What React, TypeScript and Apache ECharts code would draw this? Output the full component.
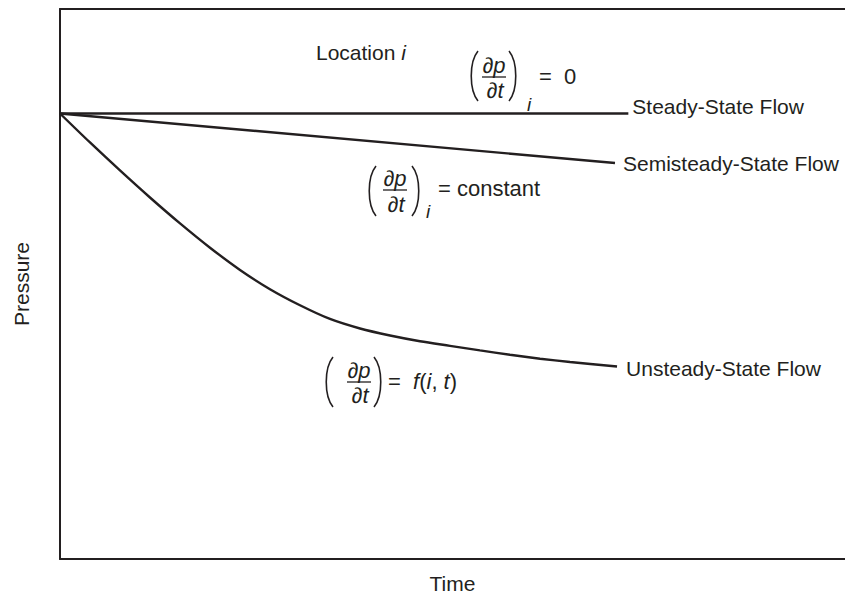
import React, { useEffect, useRef } from "react";
import * as echarts from "echarts";

const seriesNames = ["Steady-State Flow", "Semisteady-State Flow", "Unsteady-State Flow"];
const steadyData: number[][] = [[0, 81.0], [72.4, 81.0]];
const semisteadyData: number[][] = [[0, 81.0], [70.7, 72.0]];
const unsteadyData: number[][] = [
  [0, 81.0], [3.82, 75.73], [7.64, 70.65], [11.46, 65.73], [15.29, 61.02],
  [19.11, 56.6], [22.93, 52.56], [26.75, 49.05], [30.57, 46.13], [34.39, 43.64],
  [38.22, 41.91], [42.04, 40.64], [45.86, 39.6], [49.68, 38.76], [53.5, 37.93],
  [57.32, 37.13], [61.15, 36.42], [64.97, 35.82], [70.96, 35.0],
];
const xAxisName = "Time";
const yAxisName = "Pressure";

const INK = "#231f20";
const FONT = "'Liberation Sans', Arial, Helvetica, sans-serif";
const FS = 21;
const MFS = 22;

function paren(x0: number, x1: number, top: number, bottom: number, left: boolean) {
  const h = bottom - top;
  const outer = left ? x1 : x0;
  const inner = left ? x0 : x1;
  return {
    type: "bezierCurve",
    shape: {
      x1: outer, y1: top, x2: outer, y2: bottom,
      cpx1: inner, cpy1: top + h * 0.22, cpx2: inner, cpy2: bottom - h * 0.22,
    },
    style: { stroke: INK, lineWidth: 1.6, fill: null },
  };
}

function txt(x: number, y: number, text: string, italic = false, align = "center", size = FS) {
  return {
    type: "text", x, y,
    style: {
      text, fill: INK, fontSize: size, fontFamily: FONT,
      fontStyle: italic ? "italic" : "normal", align, verticalAlign: "middle",
    },
  };
}

function fracBlock(o: {
  lp: [number, number]; rp: [number, number]; top: number; bottom: number;
  cx: number; numY: number; barY: number; denY: number; barW: number;
  sub?: [number, number]; rhs: any;
}) {
  const els: any[] = [
    paren(o.lp[0], o.lp[1], o.top, o.bottom, true),
    paren(o.rp[0], o.rp[1], o.top, o.bottom, false),
    txt(o.cx, o.numY, "∂p", true, "center", MFS),
    txt(o.cx + 1, o.denY, "∂t", true, "center", MFS),
    {
      type: "line",
      shape: { x1: o.cx - o.barW / 2, y1: o.barY, x2: o.cx + o.barW / 2, y2: o.barY },
      style: { stroke: INK, lineWidth: 1.3 },
    },
  ];
  if (o.sub) els.push(txt(o.sub[0], o.sub[1], "i", true, "center", 19));
  els.push(o.rhs);
  return els;
}

export default function App() {
  const ref = useRef<HTMLDivElement>(null);
  useEffect(() => {
    if (!ref.current) return;
    const chart = echarts.init(ref.current, undefined, { renderer: "svg" });
    const axisLine = { show: true, lineStyle: { color: INK, width: 2 } };
    const lineStyle = { color: INK, width: 2.4 };
    const labelBase = { show: true, formatter: "{a}", color: INK, fontSize: FS, fontFamily: FONT };
    const rich = { it: { fontStyle: "italic", fontSize: FS, fontFamily: FONT, fill: INK } };
    const richM = { it: { fontStyle: "italic", fontSize: MFS, fontFamily: FONT, fill: INK } };

    const graphics: any[] = [
      {
        type: "text", x: 316, y: 52,
        style: {
          text: "Location {it|i}", fill: INK, fontSize: FS, fontFamily: FONT,
          verticalAlign: "middle", rich,
        },
      },
      ...fracBlock({
        lp: [469, 478], rp: [509, 518], top: 51, bottom: 101,
        cx: 494, numY: 65, barY: 77, denY: 90, barW: 24, sub: [529, 104],
        rhs: txt(539, 76, "=  0", false, "left", MFS),
      }),
      ...fracBlock({
        lp: [367, 376], rp: [412, 421], top: 166, bottom: 216,
        cx: 395, numY: 178, barY: 190, denY: 204, barW: 24, sub: [428, 211],
        rhs: txt(438, 188, "= constant", false, "left", MFS),
      }),
      ...fracBlock({
        lp: [324, 333], rp: [374, 383], top: 357, bottom: 407,
        cx: 359, numY: 370, barY: 382, denY: 395, barW: 24,
        rhs: {
          type: "text", x: 388, y: 381,
          style: {
            text: "=  {it|f}({it|i}, {it|t})", fill: INK, fontSize: MFS, fontFamily: FONT,
            fontStyle: "normal", align: "left", verticalAlign: "middle", rich: richM,
          },
        },
      }),
    ];

    chart.setOption({
      animation: false,
      backgroundColor: "#ffffff",
      grid: { left: 60, top: 9, right: 0, bottom: 36, outerBoundsMode: "none", containLabel: false },
      xAxis: [
        {
          type: "value", min: 0, max: 100, position: "bottom",
          name: xAxisName, nameLocation: "middle", nameGap: 14,
          nameTextStyle: { color: INK, fontSize: FS, fontFamily: FONT },
          axisLine, axisTick: { show: false }, axisLabel: { show: false }, splitLine: { show: false },
        },
        {
          type: "value", min: 0, max: 100, position: "top",
          axisLine, axisTick: { show: false }, axisLabel: { show: false }, splitLine: { show: false },
        },
      ],
      yAxis: {
        type: "value", min: 0, max: 100,
        name: yAxisName, nameLocation: "middle", nameGap: 28,
        nameTextStyle: { color: INK, fontSize: FS, fontFamily: FONT },
        axisLine, axisTick: { show: false }, axisLabel: { show: false }, splitLine: { show: false },
      },
      series: [
        {
          name: seriesNames[0], type: "line", data: steadyData, symbol: "none", lineStyle,
          endLabel: { ...labelBase, distance: 4, offset: [0, -7] },
        },
        {
          name: seriesNames[1], type: "line", data: semisteadyData, symbol: "none", lineStyle,
          endLabel: { ...labelBase, distance: 8, offset: [0, 0] },
        },
        {
          name: seriesNames[2], type: "line", data: unsteadyData, symbol: "none", smooth: 0.3, lineStyle,
          endLabel: { ...labelBase, distance: 9, offset: [0, 2] },
        },
      ],
      graphic: graphics,
    });
    return () => chart.dispose();
  }, []);
  return (
    <div
      ref={ref}
      style={{ position: "fixed", left: 0, top: 0, width: 845, height: 595, background: "#fff" }}
    />
  );
}
